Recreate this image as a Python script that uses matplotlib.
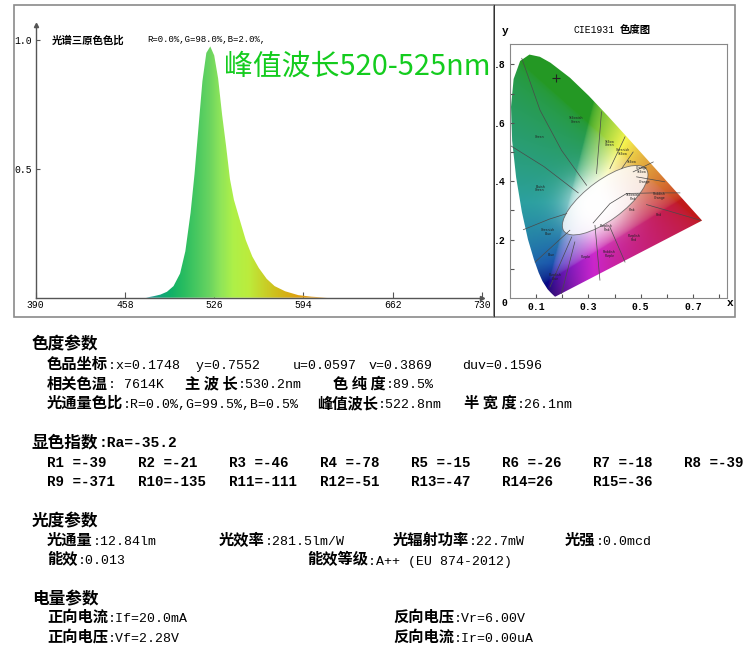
# LED spectrum report: spectrum, CIE1931 diagram and parameter table
import numpy as np
import matplotlib.pyplot as plt
from matplotlib.colors import LinearSegmentedColormap
from matplotlib.patches import Rectangle, Polygon, Ellipse
from matplotlib.text import Annotation

plt.rcParams["font.family"] = ["Noto Sans CJK SC", "DejaVu Sans"]

W, H = 750, 651

# spectrum (relative intensity vs wavelength, nm)
spec_wl = [474, 480, 485, 490, 495, 500, 504, 508, 511, 514, 517, 520, 523, 526,
           529, 532, 535, 538, 541, 545, 550, 555, 560, 566, 572, 580, 590, 600, 612]
spec_val = [0.0, 0.006, 0.012, 0.023, 0.045, 0.094, 0.18, 0.33, 0.48, 0.66, 0.84,
            0.95, 0.975, 0.94, 0.85, 0.71, 0.59, 0.46, 0.38, 0.31, 0.224, 0.16,
            0.115, 0.073, 0.045, 0.025, 0.010, 0.004, 0.0]
x_ticks = [390, 458, 526, 594, 662, 730]

# fill colour along wavelength
color_wl = [470, 482, 492, 502, 512, 522, 530, 540, 552, 564, 576, 590, 615]
color_hex = ["#2a8fb0", "#14a080", "#10b068", "#28bc60", "#48c860", "#6ad460",
             "#8ee45a", "#aef048", "#bcec3c", "#c8d028", "#d2b818", "#e0a010", "#f0a030"]

# CIE1931 spectral locus
locus_x = [0.1741, 0.1733, 0.1714, 0.1644, 0.1566, 0.1440, 0.1241, 0.1096, 0.0913,
           0.0687, 0.0454, 0.0235, 0.0082, 0.0039, 0.0139, 0.0389, 0.0743, 0.1142,
           0.1547, 0.2296, 0.3016, 0.3731, 0.4441, 0.5125, 0.5752, 0.6270, 0.6915,
           0.7190, 0.7347]
locus_y = [0.0050, 0.0048, 0.0051, 0.0109, 0.0177, 0.0297, 0.0578, 0.0868, 0.1327,
           0.2007, 0.2950, 0.4127, 0.5384, 0.6548, 0.7502, 0.8120, 0.8338, 0.8262,
           0.8059, 0.7543, 0.6923, 0.6245, 0.5547, 0.4866, 0.4242, 0.3725, 0.3083,
           0.2809, 0.2653]
point_x, point_y = 0.1748, 0.7552

# colour-name region boundaries
region_lines = [
    [(0.045, 0.821), (0.115, 0.643), (0.197, 0.506), (0.293, 0.386)],
    [(0.0, 0.523), (0.13, 0.45), (0.261, 0.36)],
    [(0.35, 0.638), (0.331, 0.426)],
    [(0.44, 0.552), (0.382, 0.443)],
    [(0.471, 0.50), (0.427, 0.443)],
    [(0.548, 0.466), (0.471, 0.432)],
    [(0.592, 0.398), (0.484, 0.415)],
    [(0.051, 0.234), (0.15, 0.27), (0.217, 0.289)],
    [(0.096, 0.123), (0.229, 0.232)],
    [(0.153, 0.038), (0.236, 0.209)],
    [(0.197, 0.015), (0.248, 0.192)],
    [(0.344, 0.061), (0.325, 0.249)],
    [(0.44, 0.123), (0.382, 0.243)],
    [(0.729, 0.266), (0.60, 0.30), (0.522, 0.32)],
    [(0.65, 0.36), (0.55, 0.36), (0.446, 0.358)],
    [(0.318, 0.257), (0.382, 0.323), (0.446, 0.358)],
]
region_names = ["Yellowish\nGreen", "Green", "Bluish\nGreen", "Greenish\nBlue", "Blue",
                "Purplish\nBlue", "Purple", "Reddish\nPurple", "Purplish\nRed", "Red",
                "Reddish\nOrange", "Orange", "Pink", "Purplish\nPink", "Yellowish\nPink",
                "Yellow", "Yellow\nGreen", "Greenish\nYellow", "Orange\nYellow"]
region_x = [0.252, 0.112, 0.115, 0.146, 0.159, 0.172, 0.289, 0.38, 0.475, 0.567,
            0.571, 0.516, 0.468, 0.369, 0.471, 0.465, 0.382, 0.433, 0.503]
region_y = [0.609, 0.552, 0.375, 0.226, 0.146, 0.072, 0.14, 0.15, 0.206, 0.286,
            0.349, 0.398, 0.30, 0.24, 0.346, 0.466, 0.529, 0.50, 0.438]

# report text: (x px, bold label, value)
chroma_rows = [
    [(47, "色品坐标", ":x=0.1748  y=0.7552"), (293, "", "u=0.0597"),
     (369, "", "v=0.3869"), (462, "", "duv=0.1596")],
    [(47, "相关色温", ": 7614K"), (185, "主 波 长", ":530.2nm"), (333, "色 纯 度", ":89.5%")],
    [(47, "光通量色比", ":R=0.0%,G=99.5%,B=0.5%"), (317, "峰值波长", ":522.8nm"),
     (464, "半 宽 度", ":26.1nm")],
]
ra_value = "-35.2"
r_names = ["R1 ", "R2 ", "R3 ", "R4 ", "R5 ", "R6 ", "R7 ", "R8 ",
           "R9 ", "R10", "R11", "R12", "R13", "R14", "R15"]
r_values = [-39, -21, -46, -78, -15, -26, -18, -39,
            -371, -135, -111, -51, -47, 26, -36]
photo_rows = [
    [(47, "光通量", ":12.84lm"), (219, "光效率", ":281.5lm/W"),
     (393, "光辐射功率", ":22.7mW"), (565, "光强", ":0.0mcd")],
    [(47, "能效", ":0.013"), (307, "能效等级", ":A++ (EU 874-2012)")],
]
elec_rows = [
    [(47, "正向电流", ":If=20.0mA"), (393, "反向电压", ":Vr=6.00V")],
    [(47, "正向电压", ":Vf=2.28V"), (393, "反向电流", ":Ir=0.00uA")],
]


def px_axes(left, top, right, bottom):
    return fig.add_axes([left / W, 1 - bottom / H, (right - left) / W, (bottom - top) / H])


def ftext(x, y, s, **kw):
    return fig.text(x / W, 1 - y / H, s, **kw)


fig = plt.figure(figsize=(7.5, 6.51), dpi=100)

# outer frames
fig.patches.append(Rectangle((14 / W, 1 - 317 / H), 480 / W, 312 / H, transform=fig.transFigure,
                             fill=False, ec="#8a8a8a", lw=1.2))
fig.patches.append(Rectangle((494 / W, 1 - 317 / H), 241 / W, 312 / H, transform=fig.transFigure,
                             fill=False, ec="#8a8a8a", lw=1.2))
fig.patches.append(Rectangle((494 / W, 1 - 317 / H), 1.2 / W, 312 / H, transform=fig.transFigure,
                             fc="#333333", ec="none"))

# ---- spectrum ----
ax = px_axes(35.7, 25, 482, 297.7)
ymax = (297.7 - 25) / (297.7 - 40)
ax.set_xlim(390, 730)
ax.set_ylim(0, ymax)
poly = ax.fill(spec_wl, spec_val, color="none", ec="none")[0]
cmap = LinearSegmentedColormap.from_list(
    "spec", list(zip([(w - color_wl[0]) / (color_wl[-1] - color_wl[0]) for w in color_wl], color_hex)))
grad = np.linspace(0, 1, 400).reshape(1, -1)
im = ax.imshow(grad, extent=[color_wl[0], color_wl[-1], 0, 1.0], aspect="auto", cmap=cmap,
               interpolation="bilinear", zorder=2)
im.set_clip_path(poly)
for s in ["top", "right"]:
    ax.spines[s].set_visible(False)
for s in ["left", "bottom"]:
    ax.spines[s].set_color("#555555")
    ax.spines[s].set_linewidth(1.0)
ax.plot(1, 0, ">", transform=ax.transAxes, clip_on=False, color="#555555", ms=3)
ax.plot(0, 1, "^", transform=ax.transAxes, clip_on=False, color="#555555", ms=3)
ax.set_xticks(x_ticks)
ax.set_xticklabels([str(t) for t in x_ticks], family="Liberation Mono", fontsize=7)
ax.set_yticks([0.5, 1.0])
ax.set_yticklabels(["0.5", "1.0"], family="Liberation Mono", fontsize=7)
ax.tick_params(axis="x", direction="in", length=4, pad=2, color="#555555")
ax.tick_params(axis="y", direction="in", length=3, pad=3, color="#555555")
ax.patch.set_alpha(0)

ftext(52, 40, "光谱三原色色比", fontsize=7.5, weight="bold", va="center")
ftext(147, 40, "R=0.0%,G=98.0%,B=2.0%,", fontsize=6.5, family="Liberation Mono", va="center")
ftext(224, 67, "峰值波长520-525nm", fontsize=20.8, color="#14cc1e", va="center", zorder=5)

# ---- CIE1931 ----
cx = px_axes(510, 44, 727, 298)
cx.set_xlim(0, 0.83)
cx.set_ylim(0, 0.87)
gx, gy = np.meshgrid(np.linspace(0.001, 0.83, 300), np.linspace(0.001, 0.87, 300))
gz = 1 - gx - gy
X, Y, Z = gx / gy, np.ones_like(gx), gz / gy
r = 3.2406 * X - 1.5372 * Y - 0.4986 * Z
g = -0.9689 * X + 1.8758 * Y + 0.0415 * Z
b = 0.0557 * X - 0.2040 * Y + 1.0570 * Z
rgb = np.clip(np.dstack([r, g, b]), 0, None)
rgb = rgb / rgb.max(axis=2, keepdims=True)
rgb = np.clip(rgb, 0, 1) ** (1 / 2.2)
# muted, darker greens like the printed chart, white glow round the white point
gdom = np.clip(rgb[..., 1] - rgb[..., 0], 0, 1)
rgb = rgb * (1 - 0.3 * gdom)[..., None]
luma = (0.3 * rgb[..., 0] + 0.59 * rgb[..., 1] + 0.11 * rgb[..., 2])[..., None]
rgb = luma + (rgb - luma) * 0.65
dark = np.clip((0.12 - gy) / 0.12, 0, 1) * np.clip((0.3 - gx) / 0.15, 0, 1)
rgb = rgb * (1 - 0.4 * dark)[..., None]
wmix = np.exp(-(((gx - 0.33) / 0.11) ** 2 + ((gy - 0.32) / 0.09) ** 2))
rgb = rgb * (1 - wmix[..., None]) + wmix[..., None]
rgb = np.clip(rgb, 0, 1)
img = cx.imshow(rgb, origin="lower", extent=[0.001, 0.83, 0.001, 0.87], aspect="auto",
                interpolation="bilinear")
locus = Polygon(list(zip(locus_x, locus_y)), closed=True, fc="none", ec="none")
cx.add_patch(locus)
img.set_clip_path(locus)
ell = Ellipse((0.364, 0.335), 0.38, 0.14, angle=33, fc="white", ec="#555555", lw=0.6, alpha=0.8)
cx.add_patch(ell)
for line in region_lines:
    xs, ys = zip(*line)
    cx.plot(xs, ys, color="#4a4a4a", lw=0.5)
for nm, rx, ry in zip(region_names, region_x, region_y):
    cx.text(rx, ry, nm, fontsize=2.3, ha="center", va="center", color="#222222",
            family="DejaVu Sans", linespacing=0.9)
cx.plot(point_x, point_y, "+", color="#222222", ms=6, mew=0.8)
cx.set_xticks(np.arange(0.1, 0.81, 0.1))
cx.set_xticklabels(["0.1", "", "0.3", "", "0.5", "", "0.7", ""],
                   family="Liberation Mono", fontsize=7, weight="bold")
cx.set_yticks(np.arange(0.1, 0.81, 0.1))
cx.set_yticklabels(["", ".2", "", ".4", "", ".6", "", ".8"],
                   family="Liberation Mono", fontsize=7, weight="bold")
cx.tick_params(direction="in", length=3, color="#555555", pad=3)
for s in cx.spines.values():
    s.set_color("#888888")
ftext(502, 31, "y", fontsize=8, family="Liberation Mono", weight="bold", va="center")
ftext(727, 303, "x", fontsize=8, family="Liberation Mono", weight="bold", va="center")
ftext(502, 303, "0", fontsize=7, family="Liberation Mono", weight="bold", va="center")
ftext(573, 30, "CIE1931", fontsize=7, family="Liberation Mono", va="center")
ftext(620, 30, "色度图", fontsize=7.5, weight="bold", va="center")


# ---- report text ----
def row(items, y, lsize=11, vsize=9.5):
    for x, label, value in items:
        if label:
            t = ftext(x, y, label, fontsize=lsize, weight="bold", va="baseline")
            fig.add_artist(Annotation(
                value, xy=(1, 1 - y / H), xycoords=(t, "figure fraction"),
                fontsize=vsize, family="Liberation Mono", va="baseline"))
        else:
            ftext(x, y, value, fontsize=vsize, family="Liberation Mono", va="baseline")


ftext(32, 349, "色度参数", fontsize=12, weight="bold", va="baseline")
for i, items in enumerate(chroma_rows):
    row(items, 369 + i * 19.5)

t = ftext(32, 447, "显色指数", fontsize=12, weight="bold", va="baseline")
fig.add_artist(Annotation(
    ":Ra=" + ra_value, xy=(1, 1 - 447 / H), xycoords=(t, "figure fraction"),
    fontsize=10.5, family="Liberation Mono", weight="bold", va="baseline"))
for i, (nm, val) in enumerate(zip(r_names, r_values)):
    ftext(47 + (i % 8) * 91, 467 + (i // 8) * 19.5, f"{nm}={val}", fontsize=10.2,
          family="Liberation Mono", weight="bold", va="baseline")

ftext(32, 526, "光度参数", fontsize=12, weight="bold", va="baseline")
for i, items in enumerate(photo_rows):
    row(items, 545 + i * 19.5)

ftext(32, 604, "电量参数", fontsize=12, weight="bold", va="baseline")
for i, items in enumerate(elec_rows):
    row(items, 622 + i * 19.5)

fig.savefig("out.png", dpi=100)
